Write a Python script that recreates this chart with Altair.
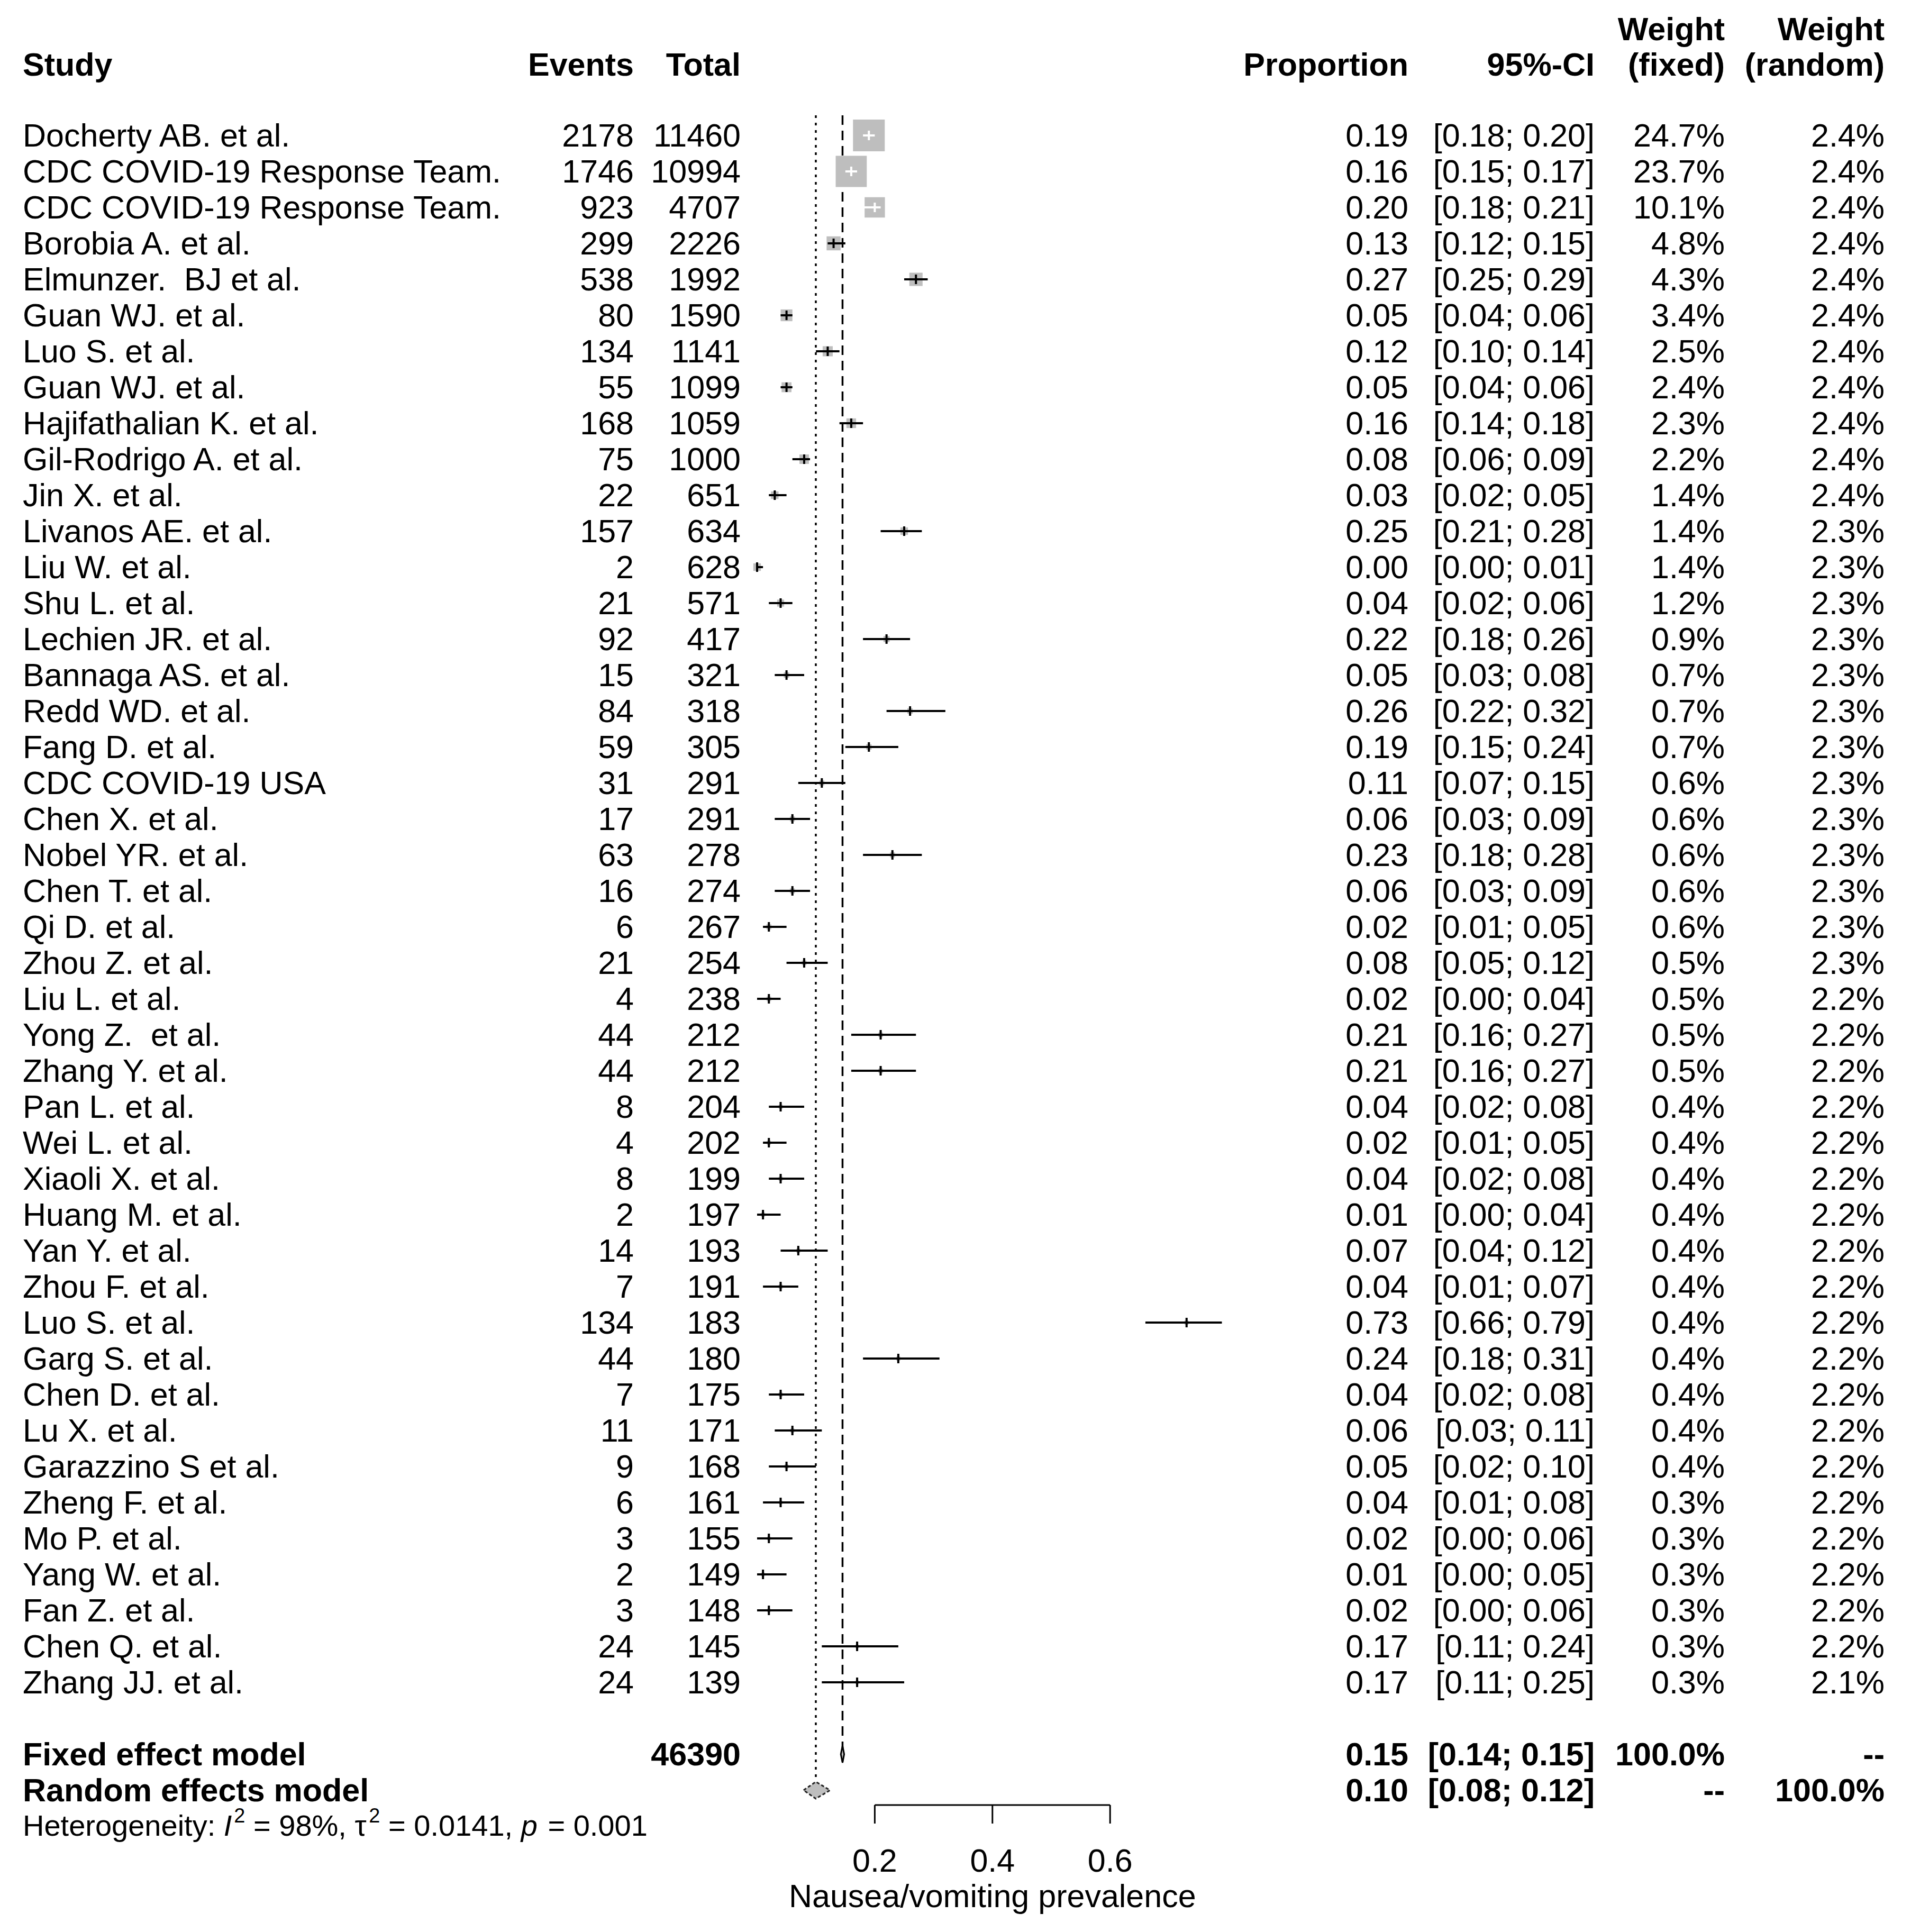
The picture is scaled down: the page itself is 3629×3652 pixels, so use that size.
import math
import altair as alt
import pandas as pd

# ---------------- data ----------------
studies = ["Docherty AB. et al.", "CDC COVID-19 Response Team.", "CDC COVID-19 Response Team.",
           "Borobia A. et al.", "Elmunzer.\u00a0 BJ et al.", "Guan WJ. et al.", "Luo S. et al.",
           "Guan WJ. et al.", "Hajifathalian K. et al.", "Gil-Rodrigo A. et al.", "Jin X. et al.",
           "Livanos AE. et al.", "Liu W. et al.", "Shu L. et al.", "Lechien JR. et al.",
           "Bannaga AS. et al.", "Redd WD. et al.", "Fang D. et al.", "CDC COVID-19 USA",
           "Chen X. et al.", "Nobel YR. et al.", "Chen T. et al.", "Qi D. et al.", "Zhou Z. et al.",
           "Liu L. et al.", "Yong Z.\u00a0 et al.", "Zhang Y. et al.", "Pan L. et al.", "Wei L. et al.",
           "Xiaoli X. et al.", "Huang M. et al.", "Yan Y. et al.", "Zhou F. et al.", "Luo S. et al.",
           "Garg S. et al.", "Chen D. et al.", "Lu X. et al.", "Garazzino S et al.", "Zheng F. et al.",
           "Mo P. et al.", "Yang W. et al.", "Fan Z. et al.", "Chen Q. et al.", "Zhang JJ. et al."]
events = [2178, 1746, 923, 299, 538, 80, 134, 55, 168, 75, 22, 157, 2, 21, 92, 15, 84, 59, 31, 17,
          63, 16, 6, 21, 4, 44, 44, 8, 4, 8, 2, 14, 7, 134, 44, 7, 11, 9, 6, 3, 2, 3, 24, 24]
totals = [11460, 10994, 4707, 2226, 1992, 1590, 1141, 1099, 1059, 1000, 651, 634, 628, 571, 417,
          321, 318, 305, 291, 291, 278, 274, 267, 254, 238, 212, 212, 204, 202, 199, 197, 193, 191,
          183, 180, 175, 171, 168, 161, 155, 149, 148, 145, 139]
proportion = [0.19, 0.16, 0.20, 0.13, 0.27, 0.05, 0.12, 0.05, 0.16, 0.08, 0.03, 0.25, 0.00, 0.04,
              0.22, 0.05, 0.26, 0.19, 0.11, 0.06, 0.23, 0.06, 0.02, 0.08, 0.02, 0.21, 0.21, 0.04,
              0.02, 0.04, 0.01, 0.07, 0.04, 0.73, 0.24, 0.04, 0.06, 0.05, 0.04, 0.02, 0.01, 0.02,
              0.17, 0.17]
ci_lower = [0.18, 0.15, 0.18, 0.12, 0.25, 0.04, 0.10, 0.04, 0.14, 0.06, 0.02, 0.21, 0.00, 0.02,
            0.18, 0.03, 0.22, 0.15, 0.07, 0.03, 0.18, 0.03, 0.01, 0.05, 0.00, 0.16, 0.16, 0.02,
            0.01, 0.02, 0.00, 0.04, 0.01, 0.66, 0.18, 0.02, 0.03, 0.02, 0.01, 0.00, 0.00, 0.00,
            0.11, 0.11]
ci_upper = [0.20, 0.17, 0.21, 0.15, 0.29, 0.06, 0.14, 0.06, 0.18, 0.09, 0.05, 0.28, 0.01, 0.06,
            0.26, 0.08, 0.32, 0.24, 0.15, 0.09, 0.28, 0.09, 0.05, 0.12, 0.04, 0.27, 0.27, 0.08,
            0.05, 0.08, 0.04, 0.12, 0.07, 0.79, 0.31, 0.08, 0.11, 0.10, 0.08, 0.06, 0.05, 0.06,
            0.24, 0.25]
weight_fixed = [24.7, 23.7, 10.1, 4.8, 4.3, 3.4, 2.5, 2.4, 2.3, 2.2, 1.4, 1.4, 1.4, 1.2, 0.9, 0.7,
                0.7, 0.7, 0.6, 0.6, 0.6, 0.6, 0.6, 0.5, 0.5, 0.5, 0.5, 0.4, 0.4, 0.4, 0.4, 0.4,
                0.4, 0.4, 0.4, 0.4, 0.4, 0.4, 0.3, 0.3, 0.3, 0.3, 0.3, 0.3]
weight_random = [2.4, 2.4, 2.4, 2.4, 2.4, 2.4, 2.4, 2.4, 2.4, 2.4, 2.4, 2.3, 2.3, 2.3, 2.3, 2.3,
                 2.3, 2.3, 2.3, 2.3, 2.3, 2.3, 2.3, 2.3, 2.2, 2.2, 2.2, 2.2, 2.2, 2.2, 2.2, 2.2,
                 2.2, 2.2, 2.2, 2.2, 2.2, 2.2, 2.2, 2.2, 2.2, 2.2, 2.2, 2.1]

summary_names = ["Fixed effect model", "Random effects model"]
summary_est = [0.1452, 0.0998]
summary_lo = [0.1423, 0.0790]
summary_hi = [0.1480, 0.1240]
summary_total = ["46390", ""]
summary_prop_txt = ["0.15", "0.10"]
summary_ci_txt = ["[0.14; 0.15]", "[0.08; 0.12]"]
summary_wf_txt = ["100.0%", "--"]
summary_wr_txt = ["--", "100.0%"]

het_parts = ["Heterogeneity: ", "I", "2", " = 98%, ", "\u03c4", "2", " = 0.0141, ", "p", " = 0.001"]
het_styles = ["normal", "italic", "sup", "normal", "normal", "sup", "normal", "italic", "normal"]

axis_ticks = [0.2, 0.4, 0.6]
axis_title = "Nausea/vomiting prevalence"

headers = ["Study", "Events", "Total", "Proportion", "95%-CI", "(fixed)", "(random)"]
headers_top = ["Weight", "Weight"]

# ---------------- layout ----------------
FONT = "Liberation Sans"
W, H = 3613, 3636
X0, XS = 1423.0, 1112.0      # pixel of value 0, pixels per unit
Y0, YS = 248.0, 68.0         # pixel of row 0, pixels per row
xs = alt.Scale(domain=[-X0 / XS, (W - X0) / XS], nice=False, zero=False)
ys = alt.Scale(domain=[-Y0 / YS, (H - Y0) / YS], nice=False, zero=False, reverse=True)
FS = 61
DY = 21
COL_STUDY, COL_EV, COL_TOT, COL_PROP, COL_CI, COL_WF, COL_WR = 35, 1190, 1392, 2654, 3006, 3252, 3554
SQ_MAX = 60.0
GREY = "#BEBEBE"

n = len(studies)
rows = list(range(n))
col = []
for p, lo, hi, w in zip(proportion, ci_lower, ci_upper, weight_fixed):
    side = SQ_MAX * math.sqrt(w / max(weight_fixed))
    inside = (hi - lo) * XS < 0.9 * side and lo < p < hi
    col.append("white" if inside else "black")

df = pd.DataFrame({
    "row": rows, "study": studies,
    "ev": [str(e) for e in events], "tot": [str(t) for t in totals],
    "prop": proportion, "lo": ci_lower, "hi": ci_upper, "wf": weight_fixed,
    "prop_t": [f"{p:.2f}" for p in proportion],
    "ci_t": [f"[{a:.2f}; {b:.2f}]" for a, b in zip(ci_lower, ci_upper)],
    "wf_t": [f"{w:.1f}%" for w in weight_fixed],
    "wr_t": [f"{w:.1f}%" for w in weight_random],
    "col": col,
})

sum_rows = [n + 1, n + 2]
sdf = pd.DataFrame({
    "row": sum_rows, "name": summary_names, "tot": summary_total,
    "prop_t": summary_prop_txt, "ci_t": summary_ci_txt,
    "wf_t": summary_wf_txt, "wr_t": summary_wr_txt,
    "est": summary_est, "lo": summary_lo, "hi": summary_hi,
})

Xq = lambda f: alt.X(f"{f}:Q", scale=xs, axis=None)
Yq = lambda f: alt.Y(f"{f}:Q", scale=ys, axis=None)


def txt(data, field, xpx, align, bold=False):
    return alt.Chart(data).mark_text(
        align=align, baseline="alphabetic", dy=DY, font=FONT, fontSize=FS,
        fontWeight="bold" if bold else "normal", color="black"
    ).encode(x=alt.value(xpx), y=Yq("row"), text=f"{field}:N")


layers = []

# reference lines (fixed dashed, random dotted)
fixed_line = alt.Chart(sdf.iloc[[0]]).mark_rule(
    color="black", strokeWidth=3.5, strokeDash=[18, 11]
).encode(x=Xq("est"), y=alt.value(210), y2=alt.value(3322))
random_line = alt.Chart(sdf.iloc[[1]]).mark_rule(
    color="black", strokeWidth=3.5, strokeDash=[5, 9]
).encode(x=Xq("est"), y=alt.value(210), y2=alt.value(3352))
layers += [fixed_line, random_line]

# squares
squares = alt.Chart(df).mark_point(shape="square", filled=True, color=GREY, opacity=1, strokeWidth=0).encode(
    x=Xq("prop"), y=Yq("row"),
    size=alt.Size("wf:Q", scale=alt.Scale(domain=[0, max(weight_fixed)], range=[0, SQ_MAX ** 2]), legend=None),
)
layers.append(squares)

# CI lines
ci = alt.Chart(df).mark_rule(strokeWidth=4).encode(
    x=Xq("lo"), x2="hi:Q", y=Yq("row"), color=alt.Color("col:N", scale=None)
)
layers.append(ci)

# estimate ticks
est_tick = alt.Chart(df).mark_point(shape="M0,-1L0,1", size=18 ** 2, strokeWidth=4, filled=False, opacity=1).encode(
    x=Xq("prop"), y=Yq("row"), color=alt.Color("col:N", scale=None)
)
layers.append(est_tick)

# diamonds
DH = 16.0 / YS
drecs = []
for i, r in enumerate(sum_rows):
    drecs += [
        {"model": summary_names[i], "x": summary_lo[i], "y": r, "y2": r},
        {"model": summary_names[i], "x": summary_est[i], "y": r - DH, "y2": r + DH},
        {"model": summary_names[i], "x": summary_hi[i], "y": r, "y2": r},
    ]
ddf = pd.DataFrame(drecs)
fixed_d = alt.Chart(ddf[ddf.model == summary_names[0]]).mark_area(
    orient="vertical", fill=GREY, stroke="black", strokeWidth=3, opacity=1
).encode(x=Xq("x"), y=Yq("y"), y2="y2:Q")
random_d = alt.Chart(ddf[ddf.model == summary_names[1]]).mark_area(
    orient="vertical", fill=GREY, stroke="#222222", strokeWidth=3, strokeDash=[6, 4], opacity=1
).encode(x=Xq("x"), y=Yq("y"), y2="y2:Q")
layers += [fixed_d, random_d]

# x axis (R style)
adf = pd.DataFrame({"t": axis_ticks, "lab": [f"{t:.1f}" for t in axis_ticks]})
axdf = pd.DataFrame({"a": [min(axis_ticks)], "b": [max(axis_ticks)],
                     "mid": [(min(axis_ticks) + max(axis_ticks)) / 2], "title": [axis_title]})
layers.append(alt.Chart(axdf).mark_rule(color="black", strokeWidth=3).encode(
    x=Xq("a"), x2="b:Q", y=alt.value(3404)))
layers.append(alt.Chart(adf).mark_rule(color="black", strokeWidth=3).encode(
    x=Xq("t"), y=alt.value(3404), y2=alt.value(3439)))
layers.append(alt.Chart(adf).mark_text(align="center", baseline="alphabetic", font=FONT, fontSize=FS,
                                       color="black").encode(x=Xq("t"), y=alt.value(3530), text="lab:N"))
layers.append(alt.Chart(axdf).mark_text(align="center", baseline="alphabetic", font=FONT, fontSize=FS,
                                        color="black").encode(x=Xq("mid"), y=alt.value(3597), text="title:N"))

# study texts
layers += [
    txt(df, "study", COL_STUDY, "left"),
    txt(df, "ev", COL_EV, "right"),
    txt(df, "tot", COL_TOT, "right"),
    txt(df, "prop_t", COL_PROP, "right"),
    txt(df, "ci_t", COL_CI, "right"),
    txt(df, "wf_t", COL_WF, "right"),
    txt(df, "wr_t", COL_WR, "right"),
]
# summary texts
layers += [
    txt(sdf, "name", COL_STUDY, "left", True),
    txt(sdf, "tot", COL_TOT, "right", True),
    txt(sdf, "prop_t", COL_PROP, "right", True),
    txt(sdf, "ci_t", COL_CI, "right", True),
    txt(sdf, "wf_t", COL_WF, "right", True),
    txt(sdf, "wr_t", COL_WR, "right", True),
]

# headers
hdf = pd.DataFrame({"h": headers})
hx = [COL_STUDY, COL_EV, COL_TOT, COL_PROP, COL_CI, COL_WF, COL_WR]
for i, h in enumerate(headers):
    layers.append(alt.Chart(hdf.iloc[[i]]).mark_text(
        align="left" if i == 0 else "right", baseline="alphabetic", font=FONT, fontSize=FS,
        fontWeight="bold", color="black").encode(x=alt.value(hx[i]), y=alt.value(135), text="h:N"))
htdf = pd.DataFrame({"h": headers_top})
for i, xpx in enumerate([COL_WF, COL_WR]):
    layers.append(alt.Chart(htdf.iloc[[i]]).mark_text(
        align="right", baseline="alphabetic", font=FONT, fontSize=FS,
        fontWeight="bold", color="black").encode(x=alt.value(xpx), y=alt.value(68), text="h:N"))

# heterogeneity line (segments for italic / superscript)
CW = {'H': 722, 'e': 556, 't': 278, 'r': 333, 'o': 556, 'g': 556, 'n': 556, 'i': 222, 'y': 500,
      ':': 278, ' ': 278, 'I': 278, '2': 556, '=': 584, '9': 556, '8': 556, '%': 889, ',': 278,
      '0': 556, '.': 278, '1': 556, '4': 556, 'p': 556, '\u03c4': 480}
F_HET, F_SUP, SUP_RAISE, HET_BASE = 56, 38, 25, 3462
xpos = COL_STUDY
for part, style in zip(het_parts, het_styles):
    fs = F_SUP if style == "sup" else F_HET
    yb = HET_BASE - (SUP_RAISE if style == "sup" else 0)
    lead = len(part) - len(part.lstrip(" "))
    xpos += lead * CW[' '] / 1000.0 * fs
    core = part.strip(" ")
    pdf = pd.DataFrame({"t": [core]})
    layers.append(alt.Chart(pdf).mark_text(
        align="left", baseline="alphabetic", font=FONT, fontSize=fs,
        fontStyle="italic" if style == "italic" else "normal", color="black"
    ).encode(x=alt.value(xpos), y=alt.value(yb), text="t:N"))
    w = sum(CW.get(c, 556) for c in part.lstrip(" ")) / 1000.0 * fs
    if style == "italic":
        w += 4
    xpos += w

chart = alt.layer(*layers).properties(
    width=W, height=H, padding=0,
    autosize=alt.AutoSizeParams(type="none"),
).configure_view(stroke=None)

chart.save("out.html", embed_options={"renderer": "svg", "actions": False})
